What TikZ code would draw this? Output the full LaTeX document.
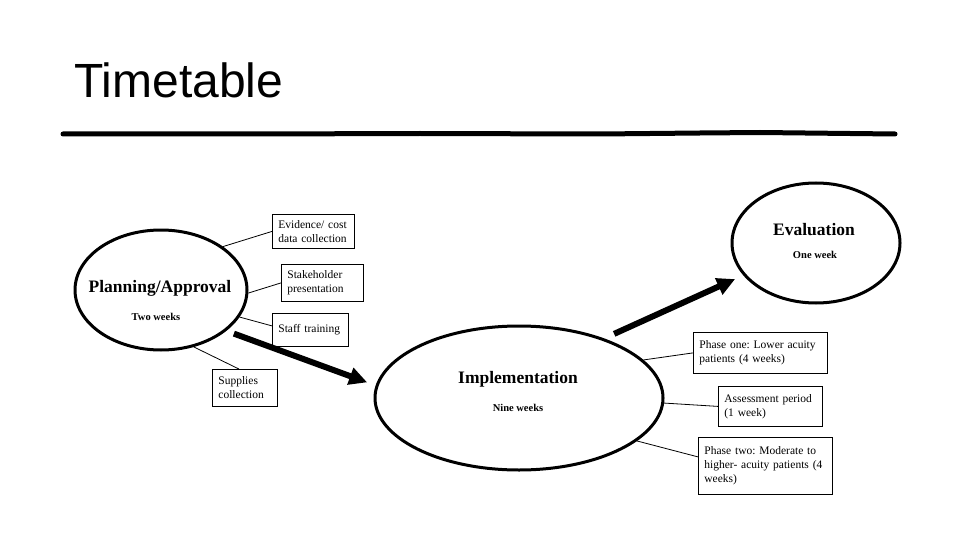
\documentclass[tikz,border=0pt]{standalone}
\usepackage{fontspec}
\setmainfont{Liberation Serif}
\newfontfamily\titlefont{Liberation Sans}
\usetikzlibrary{shapes.geometric,arrows.meta}
\frenchspacing

\tikzset{
    phase/.style={draw, ellipse, line width=3pt, inner sep=0pt},
    task/.style={draw, line width=0.8pt, anchor=north west, inner xsep=6pt,
        inner ysep=2pt, align=left, font=\fontsize{11.5}{14}\selectfont},
    link/.style={line width=0.8pt},
    flow/.style={line width=6pt, -{Triangle[length=18pt,width=17pt]}},
    phasename/.style={anchor=base, inner sep=0pt, font=\fontsize{17.5}{20}\selectfont\bfseries},
    phasetime/.style={anchor=base, inner sep=0pt, font=\fontsize{10.5}{12}\selectfont\bfseries}
}

\begin{document}
\begin{tikzpicture}[x=1pt, y=-1pt]
    \useasboundingbox[fill=white] (0,0) rectangle (960,540);

    % Title and rule
    \node[anchor=base west, inner sep=0pt, font=\titlefont\fontsize{48}{56}\selectfont] (title) at (74,98) {Timetable};
    \draw[line width=5pt, line cap=round] (63,134) -- (250,134) -- (420,133.5) -- (600,134)
        -- (700,133) -- (760,132.5) -- (895,134);

    % Phases
    \node[phase, minimum width=172pt, minimum height=120pt] (plan) at (161,290) {};
    \node[phasename] (planname) at (160,292) {Planning/Approval};
    \node[phasetime] (plantime) at (156,320) {Two weeks};

    \node[phase, minimum width=288pt, minimum height=144pt] (impl) at (519,398) {};
    \node[phasename] (implname) at (518,383) {Implementation};
    \node[phasetime] (impltime) at (518,411) {Nine weeks};

    \node[phase, minimum width=168pt, minimum height=120pt] (eval) at (816,243) {};
    \node[phasename] (evalname) at (814,235) {Evaluation};
    \node[phasetime] (evaltime) at (815,258) {One week};

    % Planning tasks
    \node[task, text width=70pt, minimum height=34pt] (evid) at (272,214) {Evidence/ cost\\data collection};
    \node[task, text width=70pt, minimum height=37pt] (stake) at (281,264) {Stakeholder\\presentation};
    \node[task, text width=64pt, minimum height=33pt] (staff) at (272,313) {Staff training};
    \node[task, text width=53pt, minimum height=37pt] (supply) at (212,369) {Supplies\\collection};

    \draw[link] (plan.35) -- (evid.west);
    \draw[link] (plan.-2) -- (stake.west);
    \draw[link] (plan.-19) -- ([yshift=4pt]staff.west);
    \draw[link] (plan.-60) -- ([xshift=-6pt]supply.north);

    % Implementation tasks
    \node[task, text width=122pt, minimum height=41pt] (phaseone) at (693,332) {Phase one: Lower acuity\\patients (4 weeks)};
    \node[task, text width=92pt, minimum height=40pt] (assess) at (718,386) {Assessment period\\(1 week)};
    \node[task, text width=122pt, minimum height=57pt] (phasetwo) at (698,437) {Phase two: Moderate to\\higher- acuity patients (4\\weeks)};

    \draw[link] (impl.17) -- (phaseone.west);
    \draw[link] (impl.-2) -- (assess.west);
    \draw[link] (impl.-20) -- ([yshift=9pt]phasetwo.west);

    % Flow between phases
    \draw[flow, shorten <=8pt, shorten >=9pt] (plan.-32) -- (impl.175);
    \draw[flow, shorten <=11pt, shorten >=9pt] (impl.35) -- (eval.204);
\end{tikzpicture}
\end{document}
